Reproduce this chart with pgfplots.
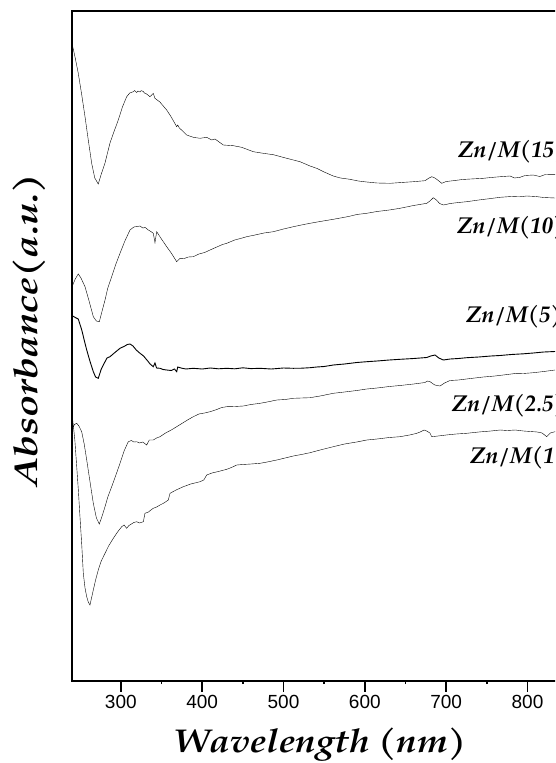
\documentclass[border=0pt]{standalone}
\usepackage{fontspec}
\usepackage{pgfplots}
\pgfplotsset{compat=1.18}
\newfontfamily\pal{TeX Gyre Pagella}
\newfontfamily\palx[FakeStretch=1.12]{TeX Gyre Pagella}
\newfontfamily\paly[FakeStretch=1.22]{TeX Gyre Pagella}
\newfontfamily\tickfont{Liberation Sans}
\newcommand\labfont{\pal\bfseries\itshape\fontsize{23}{23}\selectfont}
\begin{document}
\begin{tikzpicture}
\path[use as bounding box, clip] (0,0) rectangle (555pt,763pt);
\begin{axis}[
  at={(72pt,82pt)}, anchor=south west,
  scale only axis, width=496.2pt, height=670pt,
  xmin=240, xmax=850, ymin=11, ymax=681, y dir=reverse,
  xtick={300,400,500,600,700,800}, minor x tick num=1,
  ytick=\empty, xtick pos=lower, tick align=outside,
  major tick length=10.7pt, minor tick length=3pt,
  axis line style={line width=1.6pt},
  every tick/.style={line width=1.4pt, black},
  /pgf/number format/assume math mode=true,
  xticklabel style={font=\tickfont\fontsize{19}{19}\selectfont},
  xlabel={Wavelength (nm)},
  ylabel={Absorbance(a.u.)},
  every axis x label/.style={at={(axis description cs:0.5,-0.107)}, anchor=base, font=\palx\bfseries\itshape\fontsize{33}{33}\selectfont},
  every axis y label/.style={at={(axis description cs:-0.0705,0.524)}, rotate=90, anchor=base, font=\paly\bfseries\itshape\fontsize{33}{33}\selectfont},
  cycle list={{black, no markers, line width=0.9pt}},
  clip=true,
]
% Zn/M(15)
\addplot coordinates {
(240.9,46.7)(244,58)(247.7,73.3)(252,95)(256.0,116.7)(260,140)(264.2,163.3)(268,178)(272.3,184)
(276,174)(280.6,163)(283,155)(286.7,143)(291,133)(296.9,120)(302,107)(307.2,96.7)(311,93)
(315.4,91.7)(317,90.5)(319.5,92.5)(321,91)(323.6,92)(325,90.6)(327.7,91.5)(329,93)(331.8,94)
(334,95.5)(335.9,96.7)(338,95)(339.9,93.3)(342.0,98.3)(348,102)(356.4,110)(362,117)
(368.7,126.7)(370,125)(372,128)(376,131)(381.0,135)(389.1,137.3)(397.4,138.3)(405.6,137.3)
(411.8,140)(415.8,139)(426.0,145)(438.3,145.7)(448.6,147.3)(462.9,151.7)(475.2,153.3)
(487.5,154.7)(504.0,158.3)(520.3,161.7)(532.6,166)(540.8,168.3)(550,172)(561.2,176)
(570,178)(581.8,179.3)(592,181)(602.3,182)(615,183)(631.0,183.3)(645,182.5)(659.6,181.7)
(674.0,180.7)(679,178)(682.2,176.7)(685,177.5)(688.4,179.3)(694.5,183.3)(700,181.5)
(708.8,180.7)(720,179.5)(730,179)(745.7,178.3)(755,177.5)(765,176.8)(778.5,176)(784,178)
(790.8,177.3)(797,175.5)(807.1,175)(815,176.5)(822,174.5)(833.8,174.3)(850,174)};
% Zn/M(10)
\addplot coordinates {
(240.9,285)(244,279)(247.7,274)(251,278)(256.0,286.7)(261,301)(266.2,316.7)(270,321)
(273.6,321.7)(277,311)(280.6,300)(284,288)(288.8,276.7)(294,264)(299.0,253.3)(305,241)
(311.3,230)(316,227)(320,226.5)(323.6,226)(327,228)(330,227.5)(333.8,230)(337,231.5)
(339.9,233.3)(342.0,242.7)(344.1,231.7)(350,239)(356.4,246.7)(362,253)(368.7,261.7)
(372.8,258.3)(378,258.5)(383,257)(389.1,256.7)(396,254)(403,252.5)(409.7,250)(418,247)
(425,244.5)(430.2,243.3)(440,240)(447,238.5)(454.8,236.7)(465,235)(476,233)(487.5,231.7)
(500,229)(512.1,226.7)(522,225)(532.6,223.3)(545,221.5)(561.2,219.3)(580,216.5)
(590,214.5)(602.3,213.3)(615,211.5)(630,210)(643.2,208.3)(660,205.5)(676.1,203.3)
(680,201)(684.2,197.7)(688,200)(692,203.5)(696.5,205)(705,203.5)(715,202.5)(725.2,201.7)
(740,200)(755,198.5)(766.2,197.3)(780,196.5)(790,196.8)(799.0,196)(810,196.5)(820,197.5)
(833.8,198)(850,199)};
% Zn/M(5)
\addplot coordinates {
(240.9,316)(244,317.5)(247.7,319)(252,330)(255,340)(258.1,350)(262,361)(266.2,371.7)
(269,377)(272.3,378.3)(276,369)(280.6,361.7)(283,358)(286.7,356.7)(292,353)(299.0,348.3)
(305,346)(308,344.5)(311.3,344)(315,346)(319,350)(323.6,353.3)(328,356)(333.8,361.7)
(336,364)(339.9,366.7)(342,363)(344,368)(348.2,368.3)(352,369.5)(356.4,370)(362,370.5)
(366,369)(368.7,371.7)(370,367)(374,368)(380,369)(389.1,368.3)(400,369)(410,368)
(420,368.8)(430.2,368.3)(440,368.8)(450,367.8)(460,368.6)(471.1,368.3)(485,369)
(500,368)(512.1,368.3)(522,368.2)(532.6,367.7)(540.8,367)(550,366.5)(561.2,365)
(575,364)(590,362.5)(602.3,361.7)(615,361)(630,360)(643.2,359.3)(660,358.5)(676.1,357.5)
(681,356)(686.3,355)(691,358)(696.5,360)(705,359)(715,358.5)(725.2,357.7)(740,357)
(755,356)(766.2,355.5)(780,354.5)(795,353.8)(807.1,353)(820,352)(833.8,351.5)(850,351)};
% Zn/M(2.5)
\addplot coordinates {
(240.9,428)(243,424.5)(245.8,423.3)(248.5,426)(251.9,431.7)(255,444)(258.1,460)(262,481)
(266.2,503.3)(270,518)(273.6,524)(277,516)(280.6,506.7)(284,497)(288.8,486.7)(294,475)
(299.0,463.3)(304,451)(309.2,441.7)(313,440.5)(316,442)(319.5,441.7)(323,443)(327,442)
(331.8,445)(335,440)(339.9,440)(344,438)(348.2,436.7)(355,433)(362,430)(368.7,426.7)
(375,423.5)(382,420)(389.1,416.7)(396,414)(403,413)(409.7,411.7)(418,409.5)(424,407.5)
(430.2,406.7)(440,406.5)(450.6,406)(460,404.5)(471.1,403.3)(480,402)(491.7,400)
(502,399.5)(512.1,398.3)(522,398)(532.6,397.7)(545,396)(561.2,393.3)(575,392)
(590,390.5)(602.3,389)(615,388)(630,386.5)(643.2,385.5)(660,384)(674.0,382.5)
(677,381)(680.1,381.7)(686,385)(692.4,386)(698,383)(704.7,380.5)(715,380)(730,378.5)
(745.7,377)(760,376)(775,374.5)(786.7,373.3)(795,373.5)(807.1,372.7)(820,371.5)
(833.8,370)(850,369)};
% Zn/M(1)
\addplot coordinates {
(240.9,420)(243.5,440)(245.8,466.7)(247.8,490)(249.8,516.7)(252,545)(253.9,573.3)
(256,588)(258.1,596.7)(260,602)(262.1,605)(264,598)(266.2,590)(269,580)(272.3,570)
(276,561)(280.6,553.3)(285,546)(290.8,538.3)(296,532)(301.1,526.7)(304,525)(307.2,528.3)
(310,525.5)(313,524)(316,522.5)(319.5,521.7)(323,523)(327.7,521.7)(329.7,513.3)(334,512)
(337,510)(339.9,508.3)(344,507)(348.2,505)(353,503)(358.4,500)(360.5,493.3)(368,490)
(376.8,486.7)(386,484)(397.4,481.7)(402,480)(405.6,475)(412,473)(420,471.5)(430.2,469.3)
(436,467.5)(442.5,465)(450,464.5)(460,464)(471.1,463.3)(480,462)(491.7,460)(502,458)
(512.1,456)(522,454.5)(532.6,452.7)(545,450)(561.2,446.7)(575,444)(590,442)(602.3,440)
(615,439)(630,437.5)(643.2,436.7)(655,435)(663.8,433.3)(668,432)(672.8,430)(676,431)
(680,433)(682.2,436.7)(690,436)(700,435)(712,434)(725.2,433.3)(740,432)(755,431)
(766.2,430)(775,430.5)(785,430)(795,431)(807.1,431.7)(812,432)(818,433)(823.6,436.7)
(828,433)(833.8,431.7)(850,431)};
\node[anchor=base west, inner sep=0pt, font=\labfont] at (axis cs:714.5,157) {Zn/M(15)};
\node[anchor=base west, inner sep=0pt, font=\labfont] at (axis cs:713.3,233) {Zn/M(10)};
\node[anchor=base west, inner sep=0pt, font=\labfont] at (axis cs:724.4,322) {Zn/M(5)};
\node[anchor=base west, inner sep=0pt, font=\labfont] at (axis cs:706.8,411) {Zn/M(2.5)};
\node[anchor=base west, inner sep=0pt, font=\labfont] at (axis cs:729.3,463) {Zn/M(1)};
\end{axis}
\end{tikzpicture}
\end{document}
